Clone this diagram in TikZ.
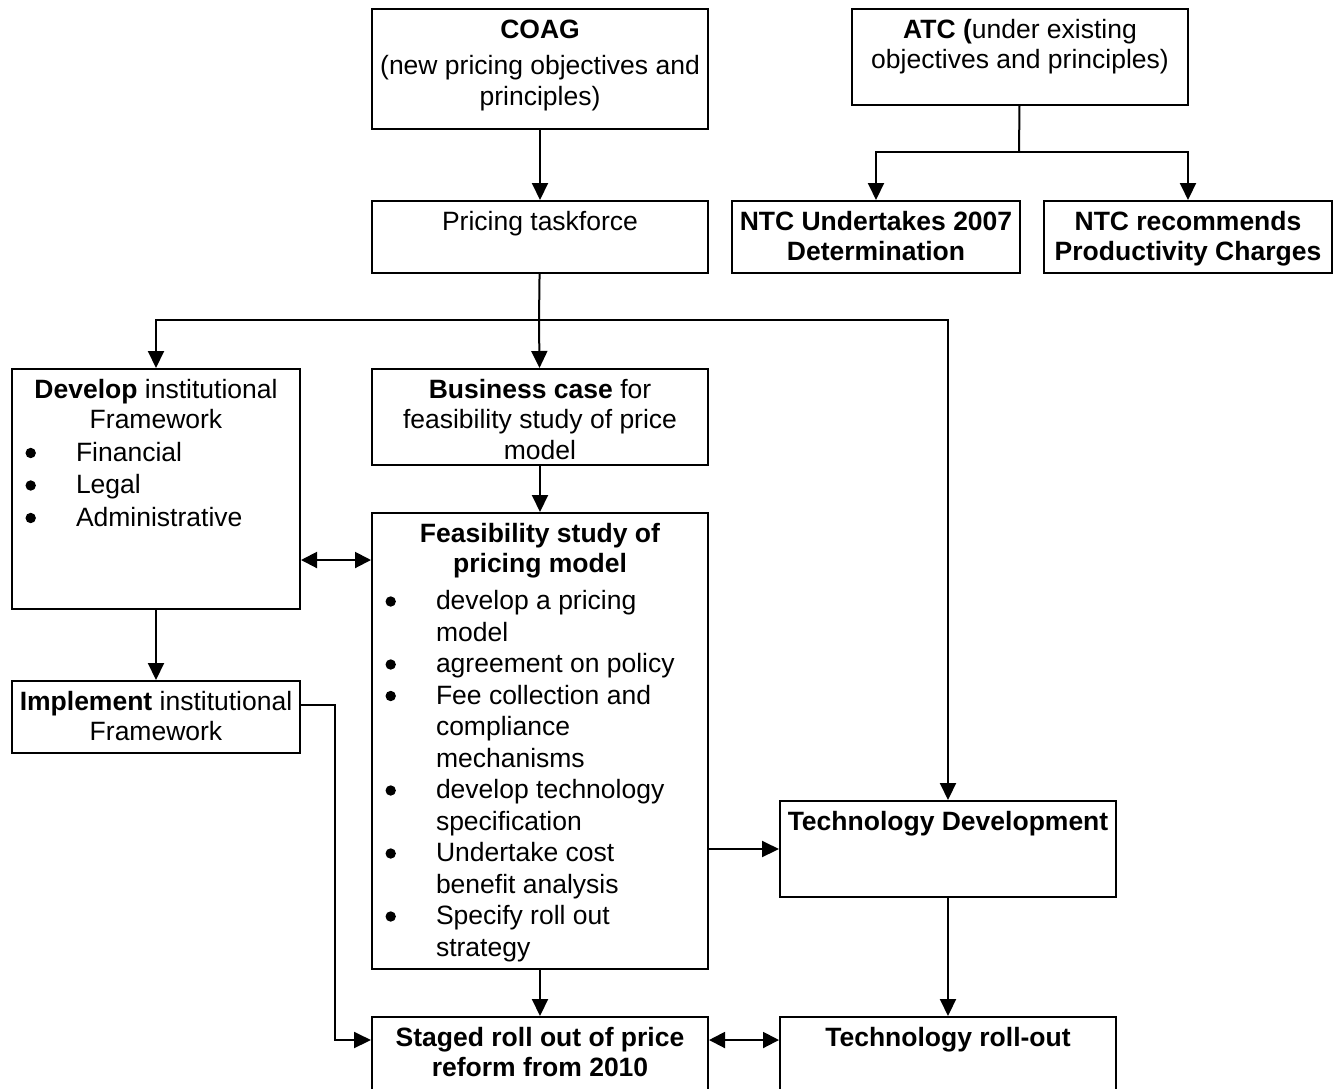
\documentclass[tikz,border=0pt]{standalone}
\usepackage{fontspec}
\setmainfont{Liberation Sans}
\usetikzlibrary{arrows.meta}

% box text: width, height, content (top aligned)
\newcommand{\boxtxt}[3]{\parbox[t][#2][t]{#1}{\fontsize{26.5}{30.5}\selectfont\centering\rule{0pt}{29pt}#3}}
\newcommand{\bul}{\tikz[baseline=0pt]\fill (0pt,8pt) circle (5.2pt);}
\newcommand{\itm}[1]{\par\noindent\hangindent=64pt\makebox[64pt][l]{\hspace{13.5pt}\bul}#1\par}

\begin{document}
\begin{tikzpicture}[x=1pt, y=-1pt]
    \tikzstyle{block} = [draw, line width=2pt, inner sep=0pt, anchor=north west]
    \tikzstyle{link} = [line width=2pt]
    \tikzstyle{arrow} = [line width=2pt, -{Triangle[length=17pt, width=16pt]}]
    \tikzstyle{dblarrow} = [line width=2pt, {Triangle[length=16pt, width=16pt]}-{Triangle[length=16pt, width=16pt]}]

    \useasboundingbox (0,0) rectangle (1340,1088);

    % top row
    \node (coag) [block] at (371,8) {\boxtxt{336pt}{120pt}{\textbf{COAG}\\[6pt](new pricing objectives and\\principles)}};
    \node (atc) [block] at (851,8) {\boxtxt{336pt}{96pt}{\textbf{ATC (}under existing\\objectives and principles)}};
    \node (task) [block] at (371,200) {\boxtxt{336pt}{72pt}{Pricing taskforce}};
    \node (ntcdet) [block] at (731,200) {\boxtxt{288pt}{72pt}{\textbf{NTC Undertakes 2007\\Determination}}};
    \node (ntcprod) [block] at (1043,200) {\boxtxt{288pt}{72pt}{\textbf{NTC recommends\\Productivity Charges}}};

    % middle
    \node (develop) [block] at (11,368) {\boxtxt{288pt}{240pt}{\textbf{Develop} institutional\\Framework\par
        \raggedright\setlength{\baselineskip}{32.5pt}\itm{Financial}\itm{Legal}\itm{Administrative}}};
    \node (business) [block] at (371,368) {\boxtxt{336pt}{96pt}{\textbf{Business case} for\\feasibility study of price\\model}};
    \node (feas) [block] at (371,512) {\boxtxt{336pt}{456pt}{\textbf{Feasibility study of\\pricing model}\par
        \raggedright\setlength{\baselineskip}{31.5pt}\vspace{5.5pt}
        \itm{develop a pricing\newline model}
        \itm{agreement on policy}
        \itm{Fee collection and\newline compliance\newline mechanisms}
        \itm{develop technology\newline specification}
        \itm{Undertake cost\newline benefit analysis}
        \itm{Specify roll out\newline strategy}}};
    \node (implement) [block] at (11,680) {\boxtxt{288pt}{72pt}{\textbf{Implement} institutional\\Framework}};
    \node (techdev) [block] at (779,800) {\boxtxt{336pt}{96pt}{\textbf{Technology Development}}};

    % bottom row
    \node (staged) [block] at (371,1016) {\boxtxt{336pt}{76pt}{\textbf{Staged roll out of price\\reform from 2010}}};
    \node (rollout) [block] at (779,1016) {\boxtxt{336pt}{76pt}{\textbf{Technology roll-out}}};

    \coordinate (atcsplit) at (1019,152);
    \coordinate (tasksplit) at (539,320);
    \coordinate (implturn) at (335,1040);

    \draw [arrow] (coag) -- (task);
    \draw [link] (atc) -- (atcsplit);
    \draw [arrow] (atcsplit) -| (ntcdet);
    \draw [arrow] (atcsplit) -| (ntcprod);
    \draw [link] (task) -- (tasksplit);
    \draw [arrow] (tasksplit) -| (develop);
    \draw [arrow] (tasksplit) -- (business);
    \draw [arrow] (tasksplit) -| (techdev);
    \draw [arrow] (business) -- (feas);
    \draw [dblarrow] (develop.east |- 0,560) -- (feas.west |- 0,560);
    \draw [arrow] (develop) -- (implement);
    \draw [arrow] ([yshift=12pt]implement.east) -| (implturn) -- (staged.west |- implturn);
    \draw [arrow] (feas.east |- techdev.west) -- (techdev.west);
    \draw [arrow] (feas) -- (staged);
    \draw [arrow] (techdev) -- (rollout);
    \draw [dblarrow] (staged.east |- implturn) -- (rollout.west |- implturn);
\end{tikzpicture}
\end{document}
